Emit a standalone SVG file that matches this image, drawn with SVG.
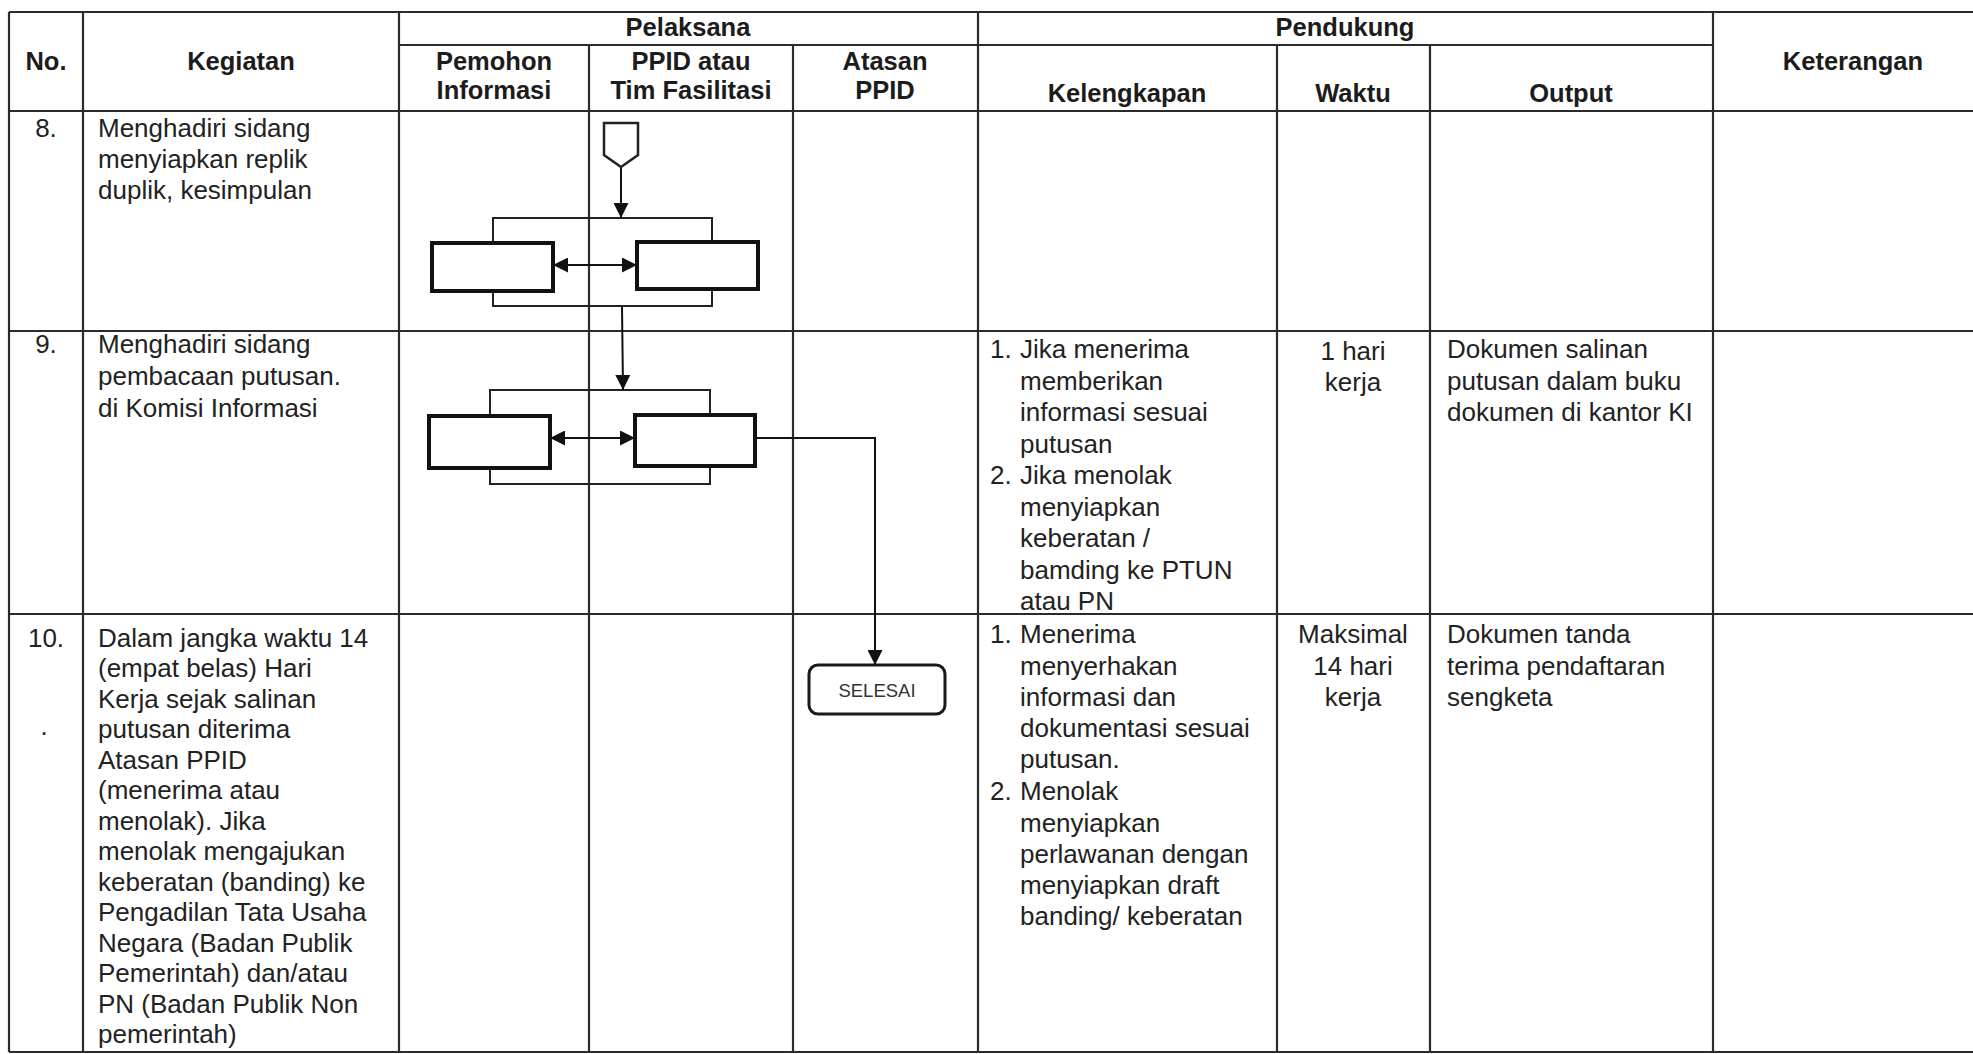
<svg xmlns="http://www.w3.org/2000/svg" width="1973" height="1054" viewBox="0 0 1973 1054">
<style>
.grid{stroke:#2b2b2b;stroke-width:2.2;fill:none}
.hd{font-family:"Liberation Sans",Arial,sans-serif;font-weight:bold;font-size:25.5px;fill:#1c1c1c;text-anchor:middle}
.tx{font-family:"Liberation Sans",Arial,sans-serif;font-size:26px;fill:#222}
.ct{text-anchor:middle}
.box{fill:#fff;stroke:#111;stroke-width:4}
.frame{fill:none;stroke:#222;stroke-width:2}
.conn{fill:none;stroke:#111;stroke-width:2}
</style>
<defs>
<marker id="ah" viewBox="0 0 14 14" refX="14" refY="7" markerWidth="15" markerHeight="15" markerUnits="userSpaceOnUse" orient="auto-start-reverse">
<path d="M0,0 L14,7 L0,14 z" fill="#111"/>
</marker>
</defs>
<rect width="1973" height="1054" fill="#fff"/>
<g id="table">
<path class="grid" d="M9,12H1973 M399,45H1713 M9,111H1973 M9,331H1973 M9,614H1973 M9,1052H1973 M9,12V1052 M83,12V1052 M399,12V1052 M978,12V1052 M1713,12V1052 M589,45V1052 M793,45V1052 M1277,45V1052 M1430,45V1052"/>
</g>
<g id="header">
<text class="hd" x="46" y="70">No.</text>
<text class="hd" x="241" y="70">Kegiatan</text>
<text class="hd" x="688" y="36">Pelaksana</text>
<text class="hd" x="494" y="70">Pemohon</text>
<text class="hd" x="494" y="99">Informasi</text>
<text class="hd" x="691" y="70">PPID atau</text>
<text class="hd" x="691" y="99">Tim Fasilitasi</text>
<text class="hd" x="885" y="70">Atasan</text>
<text class="hd" x="885" y="99">PPID</text>
<text class="hd" x="1345" y="36">Pendukung</text>
<text class="hd" x="1127" y="102">Kelengkapan</text>
<text class="hd" x="1353" y="102">Waktu</text>
<text class="hd" x="1571" y="102">Output</text>
<text class="hd" x="1853" y="70">Keterangan</text>
</g>
<g id="row8-text">
<text class="tx ct" x="46" y="137">8.</text>
<text class="tx"><tspan x="98" y="137">Menghadiri sidang</tspan><tspan x="98" y="168">menyiapkan replik</tspan><tspan x="98" y="199">duplik, kesimpulan</tspan></text>
</g>
<g id="row9-text">
<text class="tx ct" x="46" y="353">9.</text>
<text class="tx"><tspan x="98" y="353">Menghadiri sidang</tspan><tspan x="98" y="385">pembacaan putusan.</tspan><tspan x="98" y="417">di Komisi Informasi</tspan></text>
<text class="tx"><tspan x="990" y="358">1.</tspan><tspan x="1020" y="358">Jika menerima</tspan><tspan x="1020" y="390">memberikan</tspan><tspan x="1020" y="421">informasi sesuai</tspan><tspan x="1020" y="453">putusan</tspan><tspan x="990" y="484">2.</tspan><tspan x="1020" y="484">Jika menolak</tspan><tspan x="1020" y="516">menyiapkan</tspan><tspan x="1020" y="547">keberatan /</tspan><tspan x="1020" y="579">bamding ke PTUN</tspan><tspan x="1020" y="610">atau PN</tspan></text>
<text class="tx ct"><tspan x="1353" y="360">1 hari</tspan><tspan x="1353" y="391">kerja</tspan></text>
<text class="tx"><tspan x="1447" y="358">Dokumen salinan</tspan><tspan x="1447" y="390">putusan dalam buku</tspan><tspan x="1447" y="421">dokumen di kantor KI</tspan></text>
</g>
<g id="row10-text">
<text class="tx ct" x="46" y="647">10.</text>
<text class="tx ct" x="44" y="735">.</text>
<text class="tx"><tspan x="98" y="647">Dalam jangka waktu 14</tspan><tspan x="98" y="677">(empat belas) Hari</tspan><tspan x="98" y="708">Kerja sejak salinan</tspan><tspan x="98" y="738">putusan diterima</tspan><tspan x="98" y="769">Atasan PPID</tspan><tspan x="98" y="799">(menerima atau</tspan><tspan x="98" y="830">menolak). Jika</tspan><tspan x="98" y="860">menolak mengajukan</tspan><tspan x="98" y="891">keberatan (banding) ke</tspan><tspan x="98" y="921">Pengadilan Tata Usaha</tspan><tspan x="98" y="952">Negara (Badan Publik</tspan><tspan x="98" y="982">Pemerintah) dan/atau</tspan><tspan x="98" y="1013">PN (Badan Publik Non</tspan><tspan x="98" y="1043">pemerintah)</tspan></text>
<text class="tx"><tspan x="990" y="643">1.</tspan><tspan x="1020" y="643">Menerima</tspan><tspan x="1020" y="675">menyerhakan</tspan><tspan x="1020" y="706">informasi dan</tspan><tspan x="1020" y="737">dokumentasi sesuai</tspan><tspan x="1020" y="768">putusan.</tspan><tspan x="990" y="800">2.</tspan><tspan x="1020" y="800">Menolak</tspan><tspan x="1020" y="832">menyiapkan</tspan><tspan x="1020" y="863">perlawanan dengan</tspan><tspan x="1020" y="894">menyiapkan draft</tspan><tspan x="1020" y="925">banding/ keberatan</tspan></text>
<text class="tx ct"><tspan x="1353" y="643">Maksimal</tspan><tspan x="1353" y="675">14 hari</tspan><tspan x="1353" y="706">kerja</tspan></text>
<text class="tx"><tspan x="1447" y="643">Dokumen tanda</tspan><tspan x="1447" y="675">terima pendaftaran</tspan><tspan x="1447" y="706">sengketa</tspan></text>
</g>
<g id="frame8"><rect class="frame" x="493" y="218" width="219" height="88"/></g>
<g id="frame9"><rect class="frame" x="490" y="390" width="220" height="94"/></g>
<g id="connectors">
<line class="conn" x1="621" y1="167" x2="621" y2="218" marker-end="url(#ah)"/>
<line class="conn" x1="553" y1="265" x2="637" y2="265" marker-start="url(#ah)" marker-end="url(#ah)"/>
<line class="conn" x1="622" y1="306" x2="623" y2="390" marker-end="url(#ah)"/>
<line class="conn" x1="550" y1="438" x2="635" y2="438" marker-start="url(#ah)" marker-end="url(#ah)"/>
<polyline class="conn" points="755,438 875,438 875,665" marker-end="url(#ah)"/>
</g>
<g id="offpage-start"><path d="M604,123 H638 V155 L621,167 L604,155 Z" fill="#fff" stroke="#222" stroke-width="2.5"/></g>
<g id="box8-pemohon"><rect class="box" x="432" y="243" width="121" height="48"/></g>
<g id="box8-ppid"><rect class="box" x="637" y="242" width="121" height="47"/></g>
<g id="box9-pemohon"><rect class="box" x="429" y="416" width="121" height="52"/></g>
<g id="box9-ppid"><rect class="box" x="635" y="415" width="120" height="51"/></g>
<g id="selesai">
<rect x="809" y="665" width="136" height="49" rx="9" fill="#fff" stroke="#1a1a1a" stroke-width="3"/>
<text x="877" y="697" font-family="Liberation Sans, Arial, sans-serif" font-size="18.5" fill="#333" text-anchor="middle">SELESAI</text>
</g>
</svg>
